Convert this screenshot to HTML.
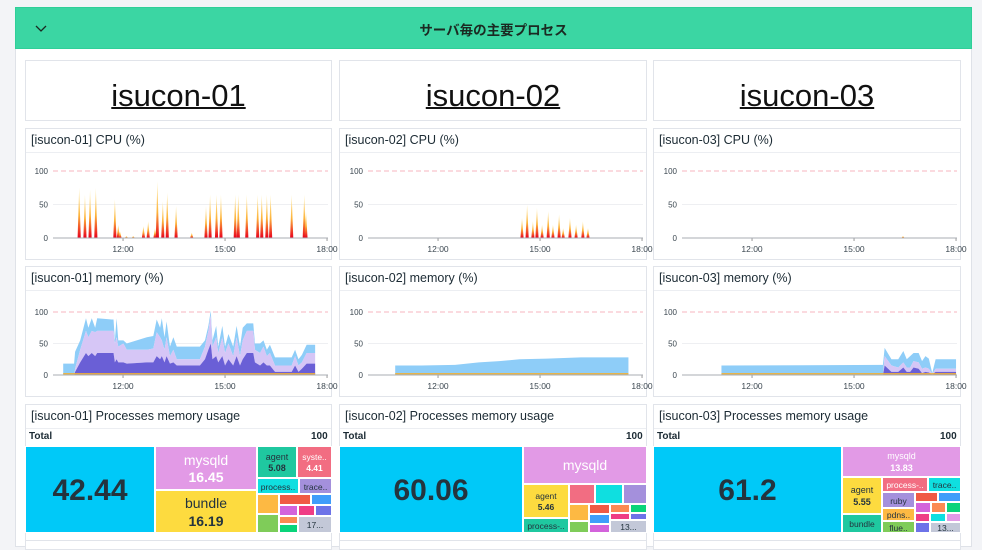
<!DOCTYPE html>
<html><head><meta charset="utf-8">
<style>
*{box-sizing:border-box;margin:0;padding:0}
body{width:982px;height:543px;overflow:hidden;background:#f3f4f7;font-family:"Liberation Sans","Noto Sans CJK JP",sans-serif;position:relative;color:#1c2b34}
.abs{position:absolute}
.group{left:15px;top:7px;width:957px;height:540px;background:#fff;border:1px solid #dfe2e8}
.hdr{left:15px;top:7px;width:957px;height:42px;background:#3bd6a3;border:1px solid #2fcf98}
.hdr .t{position:absolute;left:0;right:0;top:11px;text-align:center;font-weight:bold;font-size:13.5px;color:#1b2a22}
.panel{position:absolute;background:#fff;border:1px solid #e1e4ea}
.ptitle{position:absolute;left:0;right:0;top:0;height:24px;border-bottom:1px solid #eceef2;font-size:12.5px;padding:4px 0 0 5px;color:#1c2b34}
.host{font-size:31px;text-decoration:underline;text-align:center;position:absolute;left:0;right:0;top:17px;color:#111;text-decoration-thickness:2px}
.tot{position:absolute;font-size:10px;font-weight:bold;color:#1c2b34}
.tm{position:absolute;border:1px solid #fff;overflow:hidden;text-align:center;color:#2a3a44}
svg{position:absolute;left:0;top:0}
</style></head><body>
<div class="abs group"></div>
<div class="abs hdr">
  <svg width="30" height="40" style="left:17px;top:12px"><polyline points="3,6 8,11 13,6" fill="none" stroke="#1b2a22" stroke-width="1.3"/></svg>
  <div class="t">サーバ毎の主要プロセス</div>
</div>

<div class="panel" style="left:25px;top:60px;width:307px;height:61px"><div class="host">isucon-01</div></div>
<div class="panel" style="left:339px;top:60px;width:308px;height:61px"><div class="host">isucon-02</div></div>
<div class="panel" style="left:653px;top:60px;width:308px;height:61px"><div class="host">isucon-03</div></div>

<div class="panel" style="left:25px;top:128px;width:307px;height:132px"><div class="ptitle">[isucon-01] CPU (%)</div></div>
<div class="panel" style="left:339px;top:128px;width:308px;height:132px"><div class="ptitle">[isucon-02] CPU (%)</div></div>
<div class="panel" style="left:653px;top:128px;width:308px;height:132px"><div class="ptitle">[isucon-03] CPU (%)</div></div>

<div class="panel" style="left:25px;top:266px;width:307px;height:131px"><div class="ptitle">[isucon-01] memory (%)</div></div>
<div class="panel" style="left:339px;top:266px;width:308px;height:131px"><div class="ptitle">[isucon-02] memory (%)</div></div>
<div class="panel" style="left:653px;top:266px;width:308px;height:131px"><div class="ptitle">[isucon-03] memory (%)</div></div>

<div class="panel" style="left:25px;top:404px;width:307px;height:140px"><div class="ptitle">[isucon-01] Processes memory usage</div></div>
<div class="panel" style="left:339px;top:404px;width:308px;height:140px"><div class="ptitle">[isucon-02] Processes memory usage</div></div>
<div class="panel" style="left:653px;top:404px;width:308px;height:140px"><div class="ptitle">[isucon-03] Processes memory usage</div></div>

<div class="tot" style="left:29px;top:431px">Total</div>
<div class="tot" style="left:311px;top:431px">100</div>
<div class="tot" style="left:343px;top:431px">Total</div>
<div class="tot" style="left:626px;top:431px">100</div>
<div class="tot" style="left:657px;top:431px">Total</div>
<div class="tot" style="left:940px;top:431px">100</div>

<div class="panel" style="left:25px;top:540px;width:307px;height:10px"></div>
<div class="panel" style="left:339px;top:540px;width:308px;height:10px"></div>
<div class="panel" style="left:653px;top:540px;width:308px;height:10px"></div>

<div id="tms"></div>
<svg id="charts" width="982" height="543"></svg>

<script>
// ---- chart data ----
const xTickLabels = ["12:00","15:00","18:00"];
const xTickHours = [12,15,18];
const yTickLabels = ["100","50","0"];
const yTickValues = [100,50,0];
// CPU spikes (hour, percent)
const cpu1Times = [10.71,10.88,11.03,11.2,11.76,11.86,11.91,12.1,12.3,12.6,12.74,12.94,13.01,13.17,13.3,13.56,14.02,14.44,14.56,14.75,14.88,15.3,15.39,15.64,15.96,16.08,16.23,16.34,16.96,17.33,17.38];
const cpu1Values = [75,65,72,75,58,20,10,3,3,18,25,15,85,55,68,48,8,48,65,65,65,65,65,65,65,65,65,65,65,65,40];
const cpu2Times = [14.47,14.62,14.79,14.91,15.06,15.24,15.38,15.56,15.68,15.88,16.06,16.26,16.41];
const cpu2Values = [30,50,25,45,20,40,20,35,15,30,20,25,15];
const cpu3Times = [16.44];
const cpu3Values = [3];
// Memory stacked (cumulative top / mid / bottom)
const mem1Times = [10.24,10.56,10.59,10.74,10.91,10.98,11.08,11.18,11.24,11.67,11.72,11.76,11.81,11.86,12.01,12.11,12.70,12.89,12.99,13.09,13.14,13.22,13.28,13.38,13.48,13.58,14.07,14.26,14.41,14.51,14.58,14.63,14.74,14.80,14.92,15.00,15.10,15.24,15.34,15.44,15.52,15.64,15.83,15.88,16.03,16.13,16.23,16.32,16.47,16.96,17.06,17.16,17.26,17.40,17.65];
const mem1Top = [18,18,37,55,90,75,90,75,90,88,88,55,90,55,55,50,60,62,88,75,90,60,85,45,60,45,45,45,55,78,102,55,78,45,78,45,65,45,78,45,75,82,82,50,50,55,40,48,28,28,40,25,32,48,48];
const mem1Mid = [0,0,10,40,70,60,70,68,70,70,70,50,60,45,50,40,40,42,68,60,55,40,60,30,40,25,25,25,45,70,95,45,60,35,60,35,50,30,60,30,55,70,70,40,35,45,30,35,15,15,30,15,20,35,35];
const mem1Bot = [0,0,5,20,35,30,35,30,35,35,35,20,25,20,20,18,20,20,30,25,30,20,30,18,20,15,15,15,25,40,50,25,30,20,30,15,25,15,30,15,25,35,35,20,15,20,15,15,5,5,15,5,10,18,18];
const mem2Times = [10.74,11.5,12.5,13.2,13.8,14.4,15.2,16.2,17.0,17.6];
const mem2Top = [15,15,16,20,22,25,26,28,28,28];
const mem2Mid = [0,0,0,0,0,0,0,0,0,0];
const mem2Bot = [0,0,0,0,0,0,0,0,0,0];
const mem3Times = [11.1,13.5,15.85,15.9,16.1,16.3,16.45,16.55,16.65,16.75,16.9,17.0,17.1,17.2,17.3,17.4,18.0];
const mem3Top = [15,15.5,16,43,25,25,38,25,30,35,35,22,30,26,3,25,25];
const mem3Mid = [0,0,0,30,15,12,20,12,12,22,20,10,12,10,2,10,10];
const mem3Bot = [0,0,0,15,5,5,12,5,5,12,10,3,5,4,1,5,5];

const NS="http://www.w3.org/2000/svg";
const svg=document.getElementById('charts');
function mk(tag,attrs,parent){const e=document.createElementNS(NS,tag);for(const k in attrs)e.setAttribute(k,attrs[k]);(parent||svg).appendChild(e);return e;}
const defs=mk('defs',{});
const g=mk('linearGradient',{id:'cpuGrad',x1:0,y1:0,x2:0,y2:1},defs);
mk('stop',{offset:'0',"stop-color":'#fff2b8'},g);
mk('stop',{offset:'0.55',"stop-color":'#fdb43a'},g);
mk('stop',{offset:'1',"stop-color":'#e8001c'},g);

function axes(ox,y0,y100,name){
  const xs=h=>ox+53+(h-9.94)*34;
  const ys=v=>y0+(y100-y0)*v/100;
  const grid=mk('line',{x1:ox+53,x2:ox+328,y1:ys(50),y2:ys(50),stroke:'#eeeff2'});
  
  
  const dash=mk('line',{x1:ox+53,x2:ox+328,y1:ys(100),y2:ys(100),stroke:'#f7b5bf',"stroke-dasharray":'5,3'});
  
  
  yTickValues.forEach((v,i)=>{
    const t=mk('text',{x:ox+48,y:ys(v)+3,"text-anchor":'end',"font-size":'8',fill:'#3b4750',"font-family":'Liberation Sans, sans-serif'});
    t.textContent=yTickLabels[i];
    
    
  });
  xTickHours.forEach((h,i)=>{
    const t=mk('text',{x:xs(h),y:y0+14,"text-anchor":'middle',"font-size":'8.5',fill:'#3b4750',"font-family":'Liberation Sans, sans-serif'});
    t.textContent=xTickLabels[i];
    
    
    mk('line',{x1:xs(h),x2:xs(h),y1:y0,y2:y0+3,stroke:'#999'});
  });
  return {xs,ys};
}
function axisLine(ox,y0){
  const a=mk('line',{x1:ox+53,x2:ox+328,y1:y0,y2:y0,stroke:'#a9adb3'});
  
  
}
function cpu(ox,times,vals,name){
  const {xs,ys}=axes(ox,238,171,name);
  times.forEach((t,i)=>{
    const x=xs(t),y=ys(vals[i]);
    const p=mk('polygon',{points:`${x-1.6},238 ${x},${y} ${x+1.6},238`,fill:'url(#cpuGrad)'});
    
    
  });
  axisLine(ox,238);
}
function area(xs,ys,times,upper,lower,color,name){
  let d='M'+xs(times[0])+','+ys(lower[0]);
  times.forEach((t,i)=>{d+=' L'+xs(t)+','+ys(upper[i]);});
  for(let i=times.length-1;i>=0;i--)d+=' L'+xs(times[i])+','+ys(lower[i]);
  const p=mk('path',{d:d+'Z',fill:color});
  
  
}
function mem(ox,times,top,mid,bot,name){
  const {xs,ys}=axes(ox,375,312,name);
  const zero=times.map(()=>0);
  area(xs,ys,times,top,mid,'#8ecdf8',name+'-area-top');
  area(xs,ys,times,mid,bot,'#d6c6f6',name+'-area-mid');
  area(xs,ys,times,bot,zero,'#6a5fd6',name+'-area-bottom');
  const l=mk('line',{x1:xs(times[0]),x2:xs(times[times.length-1]),y1:ys(2),y2:ys(2),stroke:'#f2b134',"stroke-width":1.2});
  
  
  axisLine(ox,375);
}
cpu(0,cpu1Times,cpu1Values,'cpu-chart-01');
cpu(315,cpu2Times,cpu2Values,'cpu-chart-02');
cpu(629,cpu3Times,cpu3Values,'cpu-chart-03');
mem(0,mem1Times,mem1Top,mem1Mid,mem1Bot,'memory-chart-01');
mem(315,mem2Times,mem2Top,mem2Mid,mem2Bot,'memory-chart-02');
mem(629,mem3Times,mem3Top,mem3Mid,mem3Bot,'memory-chart-03');

// ---- treemaps ----
const tmCells = [
 // x1,y1,x2,y2,color,label,value,size
 [25,446,155,533,'#00c9f8','','42.44',30],
 [155,446,257,490,'#e29ae6','mysqld','16.45',14],
 [155,490,257,533,'#fddb3f','bundle','16.19',14],
 [257,446,297,478,'#1fc8a0','agent','5.08',9],
 [297,446,332,478,'#f26d82','syste..','4.41',8.5],
 [257,478,299,494,'#0fdfe0','process..','',8.5],
 [299,478,332,494,'#a490dc','trace..','',8.5],
 [257,494,279,514,'#fdb943','','',8],
 [257,514,279,533,'#7fcc59','','',8],
 [279,494,311,505,'#f05a44','','',8],
 [311,494,332,505,'#3f9dfa','','',8],
 [279,505,298,516,'#d363db','','',8],
 [298,505,315,516,'#ef3d85','','',8],
 [315,505,332,516,'#6d73e8','','',8],
 [279,516,298,524,'#fb8a53','','',8],
 [279,524,298,533,'#0ad47a','','',8],
 [298,516,332,533,'#c3c8d8','17...','',8.5],
 [339,446,523,533,'#00c9f8','','60.06',30],
 [523,446,647,484,'#e29ae6','mysqld','',14],
 [523,484,569,518,'#fddb3f','agent','5.46',8.5],
 [523,518,569,533,'#1fc8a0','process-..','',8.5],
 [569,484,595,504,'#f26d82','','',8],
 [595,484,623,504,'#0fdfe0','','',8],
 [623,484,647,504,'#a490dc','','',8],
 [569,504,589,521,'#fdb943','','',8],
 [569,521,589,533,'#7fcc59','','',8],
 [589,504,610,514,'#f05a44','','',8],
 [589,514,610,524,'#3f9dfa','','',8],
 [589,524,610,533,'#d363db','','',8],
 [610,504,630,513,'#fb8a53','','',8],
 [610,513,630,520,'#ef3d85','','',8],
 [630,504,647,513,'#0ad47a','','',8],
 [630,513,647,520,'#6d73e8','','',8],
 [610,520,647,533,'#c3c8d8','13...','',8.5],
 [653,446,842,533,'#00c9f8','','61.2',30],
 [842,446,961,477,'#e29ae6','mysqld','13.83',9],
 [842,477,882,514,'#fddb3f','agent','5.55',9],
 [842,514,882,533,'#1fc8a0','bundle','',8.5],
 [882,477,928,492,'#f26d82','process-..','',8.5],
 [928,477,961,492,'#0fdfe0','trace..','',8.5],
 [882,492,915,508,'#a490dc','ruby','',8.5],
 [882,508,915,521,'#fdb943','pdns..','',8.5],
 [882,521,915,533,'#7fcc59','flue..','',8.5],
 [915,492,938,502,'#f05a44','','',8],
 [938,492,961,502,'#3f9dfa','','',8],
 [915,502,931,513,'#d363db','','',8],
 [931,502,946,513,'#fb8a53','','',8],
 [946,502,961,513,'#0ad47a','','',8],
 [915,513,930,522,'#ef3d85','','',8],
 [930,513,946,522,'#0fdfe0','','',8],
 [946,513,961,522,'#e29ae6','','',8],
 [915,522,930,533,'#6d73e8','','',8],
 [930,522,961,533,'#c3c8d8','13...','',8.5]
];
const tmHost=document.getElementById('tms');
tmCells.forEach(c=>{
  const d=document.createElement('div');
  d.className='tm';
  
  
  const w=c[2]-c[0],h=c[3]-c[1];
  d.style.cssText=`left:${c[0]}px;top:${c[1]}px;width:${w}px;height:${h}px;background:${c[4]};`;
  const big=c[7]>=20;
  const white=(c[4]==='#e29ae6'||c[4]==='#f26d82');
  const col=white?'#fff':'#24343e';
  let html='';
  const lines=(c[5]?1:0)+(c[6]?1:0);
  const lh=c[7]*1.25;
  const pad=Math.max(0,(h-lines*lh)/2);
  html+=`<div style="padding-top:${pad}px;color:${col};line-height:${lh}px;white-space:nowrap">`;
  if(c[5])html+=`<div style="font-size:${c[7]}px">${c[5]}</div>`;
  if(c[6])html+=`<div style="font-size:${c[7]}px;font-weight:bold">${c[6]}</div>`;
  html+='</div>';
  d.innerHTML=html;
  tmHost.appendChild(d);
});
</script>
</body></html>
